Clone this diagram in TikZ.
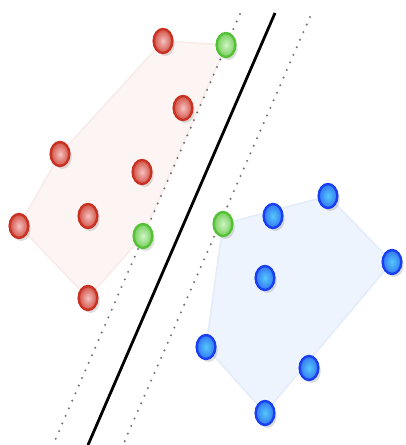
\documentclass[tikz,border=0pt]{standalone}
\usetikzlibrary{shapes.geometric,shadows,backgrounds}
\definecolor{redout}{HTML}{C93222}
\definecolor{redin}{HTML}{F6C2C2}
\definecolor{blueout}{HTML}{1A3FF0}
\definecolor{bluein}{HTML}{55C8FA}
\definecolor{greenout}{HTML}{55C235}
\definecolor{greenin}{HTML}{CFF5C4}
\definecolor{redhull}{HTML}{FDF5F4}
\definecolor{redhullline}{HTML}{F8ECEA}
\definecolor{bluehull}{HTML}{EEF4FD}
\definecolor{bluehullline}{HTML}{E3ECF9}
\tikzset{
  dot/.style={ellipse, minimum width=14pt, minimum height=18pt, inner sep=0pt,
    line width=1.8pt, shading=radial,
    drop shadow={shadow xshift=1.8pt, shadow yshift=-2.2pt, opacity=0.22, fill=black!60}},
  reddot/.style={dot, draw=redout, inner color=redin, outer color=redout!85!white},
  bluedot/.style={dot, draw=blueout, inner color=bluein, outer color=blueout!60!bluein},
  greendot/.style={dot, draw=greenout, inner color=greenin, outer color=greenout!80!white},
  redhullst/.style={fill=redhull, draw=redhullline, line width=1.2pt, line join=round},
  bluehullst/.style={fill=bluehull, draw=bluehullline, line width=1.2pt, line join=round},
  margin/.style={draw=black!55, line width=1.7pt, dash pattern=on 0pt off 6.2pt, line cap=round},
  sepline/.style={draw=black, line width=2.1pt}
}
\begin{document}
\begin{tikzpicture}[x=0.75pt,y=-0.75pt]
\useasboundingbox (0,0) rectangle (405,445);
% separating lines
\coordinate (s1) at (275,13);
\coordinate (s2) at (88,445);
\coordinate (m1) at (240,14);
\coordinate (m2) at (53,445);
\coordinate (n1) at (310,17);
\coordinate (n2) at (123,445);
\draw[margin] (m1) -- (m2);
\draw[margin] (n1) -- (n2);
\draw[sepline] (s1) -- (s2);
% red points
\node[reddot] (r1) at (163,41) {};
\node[reddot] (r2) at (183,108) {};
\node[reddot] (r3) at (60,154) {};
\node[reddot] (r4) at (142,172) {};
\node[reddot] (r5) at (88,216) {};
\node[reddot] (r6) at (19,226) {};
\node[reddot] (r7) at (88,298) {};
% green support points
\node[greendot] (g1) at (226,45) {};
\node[greendot] (g2) at (143,236) {};
\node[greendot] (g3) at (223,224) {};
% blue points
\node[bluedot] (b1) at (273,216) {};
\node[bluedot] (b2) at (328,196) {};
\node[bluedot] (b3) at (392,262) {};
\node[bluedot] (b4) at (265,278) {};
\node[bluedot] (b5) at (206,347) {};
\node[bluedot] (b6) at (309,368) {};
\node[bluedot] (b7) at (265,413) {};
\begin{scope}[on background layer]
\draw[redhullst] (r1.center) -- (g1.center) -- (g2.center) -- (r7.center) -- (r6.center) -- (r3.center) -- cycle;
\draw[bluehullst] (g3.center) -- (b2.center) -- (b3.center) -- (b7.center) -- (b5.center) -- cycle;
\end{scope}
\end{tikzpicture}
\end{document}
